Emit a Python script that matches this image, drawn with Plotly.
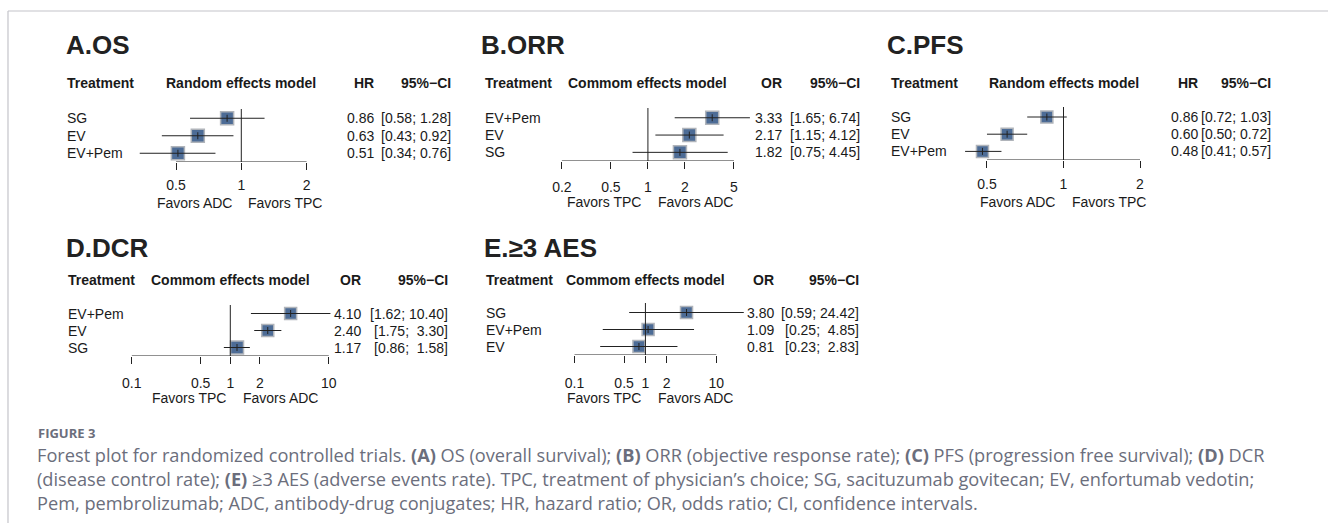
import math
import plotly.graph_objects as go

W, H = 1328, 523

# ---------------- data ----------------
A_title = "A.OS"
A_model = "Random effects model"
A_measure = "HR"
A_labels = ["SG", "EV", "EV+Pem"]
A_est = [0.86, 0.63, 0.51]
A_lo = [0.58, 0.43, 0.34]
A_hi = [1.28, 0.92, 0.76]
A_ticks = [0.5, 1, 2]
A_favors = ["Favors ADC", "Favors TPC"]

B_title = "B.ORR"
B_model = "Commom effects model"
B_measure = "OR"
B_labels = ["EV+Pem", "EV", "SG"]
B_est = [3.33, 2.17, 1.82]
B_lo = [1.65, 1.15, 0.75]
B_hi = [6.74, 4.12, 4.45]
B_ticks = [0.2, 0.5, 1, 2, 5]
B_favors = ["Favors TPC", "Favors ADC"]

C_title = "C.PFS"
C_model = "Random effects model"
C_measure = "HR"
C_labels = ["SG", "EV", "EV+Pem"]
C_est = [0.86, 0.60, 0.48]
C_lo = [0.72, 0.50, 0.41]
C_hi = [1.03, 0.72, 0.57]
C_ticks = [0.5, 1, 2]
C_favors = ["Favors ADC", "Favors TPC"]

D_title = "D.DCR"
D_model = "Commom effects model"
D_measure = "OR"
D_labels = ["EV+Pem", "EV", "SG"]
D_est = [4.10, 2.40, 1.17]
D_lo = [1.62, 1.75, 0.86]
D_hi = [10.40, 3.30, 1.58]
D_ticks = [0.1, 0.5, 1, 2, 10]
D_favors = ["Favors TPC", "Favors ADC"]

E_title = "E.≥3 AES"
E_model = "Commom effects model"
E_measure = "OR"
E_labels = ["SG", "EV+Pem", "EV"]
E_est = [3.80, 1.09, 0.81]
E_lo = [0.59, 0.25, 0.23]
E_hi = [24.42, 4.85, 2.83]
E_ticks = [0.1, 0.5, 1, 2, 10]
E_favors = ["Favors TPC", "Favors ADC"]

caption_head = "FIGURE 3"
caption_lines = [
    "Forest plot for randomized controlled trials. <b>(A)</b> OS (overall survival); <b>(B)</b> ORR (objective response rate); <b>(C)</b> PFS (progression free survival); <b>(D)</b> DCR",
    "(disease control rate); <b>(E)</b> ≥3 AES (adverse events rate). TPC, treatment of physician’s choice; SG, sacituzumab govitecan; EV, enfortumab vedotin;",
    "Pem, pembrolizumab; ADC, antibody-drug conjugates; HR, hazard ratio; OR, odds ratio; CI, confidence intervals.",
]

# ---------------- styling / layout geometry (pixels) ----------------
FONT = "Liberation Sans, Arial, Helvetica, sans-serif"
TXT = "#1a1a1a"
SQ_FILL = "#4d6c96"
SQ_EDGE = "#b0b4ba"

panels = [
    dict(title=A_title, model=A_model, measure=A_measure, labels=A_labels, est=A_est, lo=A_lo, hi=A_hi,
         ticks=A_ticks, favors=A_favors, sizes=[13, 13, 13],
         p0=171.7, p1=302.7, axis_y=162, top_y=109, row_h=17.5, title_x=59, title_y=45, head_y=83,
         treat_x=60, eff_r=372.5, ci_r=449.5, tick_standoff=3, fav_y=203, fav_off=(-7, 5), pad=False),
    dict(title=B_title, model=B_model, measure=B_measure, labels=B_labels, est=B_est, lo=B_lo, hi=B_hi,
         ticks=B_ticks, favors=B_favors, sizes=[13, 13, 13],
         p0=559, p1=731.7, axis_y=161, top_y=108, row_h=17.3, title_x=476, title_y=45, head_y=83,
         treat_x=479.5, eff_r=782, ci_r=860, tick_standoff=6, fav_y=202, fav_off=(-5, 8), pad=False),
    dict(title=C_title, model=C_model, measure=C_measure, labels=C_labels, est=C_est, lo=C_lo, hi=C_hi,
         ticks=C_ticks, favors=C_favors, sizes=[12, 12, 12],
         p0=985.7, p1=1139.3, axis_y=160, top_y=107, row_h=17.2, title_x=883, title_y=45, head_y=83,
         treat_x=887, eff_r=1199.5, ci_r=1272.5, tick_standoff=4, fav_y=202, fav_off=(-7, 6), pad=False),
    dict(title=D_title, model=D_model, measure=D_measure, labels=D_labels, est=D_est, lo=D_lo, hi=D_hi,
         ticks=D_ticks, favors=D_favors, sizes=[12, 12, 13],
         p0=127.3, p1=325, axis_y=356, top_y=305, row_h=17, title_x=59, title_y=248, head_y=280,
         treat_x=61, eff_r=359.5, ci_r=447, tick_standoff=7, fav_y=398, fav_off=(-2, 11), pad=True),
    dict(title=E_title, model=E_model, measure=E_measure, labels=E_labels, est=E_est, lo=E_lo, hi=E_hi,
         ticks=E_ticks, favors=E_favors, sizes=[12, 12, 12],
         p0=571.7, p1=714, axis_y=355, top_y=303, row_h=17, title_x=479, title_y=248, head_y=280,
         treat_x=481, eff_r=774, ci_r=859.5, tick_standoff=8, fav_y=398, fav_off=(-2, 11), pad=True),
]


def fx(p):
    return p / W


def fy(p):
    return 1 - p / H


def fmt_tick(v):
    return ("%g" % v)


NB = "\u00a0"

fig = go.Figure()
annotations = []
shapes = []
layout_axes = {}

for i, P in enumerate(panels):
    n = i + 1
    xname = "x" if n == 1 else "x%d" % n
    yname = "y" if n == 1 else "y%d" % n
    xkey = "xaxis" if n == 1 else "xaxis%d" % n
    ykey = "yaxis" if n == 1 else "yaxis%d" % n

    t0, t1 = P["ticks"][0], P["ticks"][-1]
    k = (P["p1"] - P["p0"]) / (math.log10(t1) - math.log10(t0))
    lo_v = min(min(P["lo"]), t0) * 0.85
    hi_v = max(max(P["hi"]), t1) * 1.15
    d0 = P["p0"] + (math.log10(lo_v) - math.log10(t0)) * k
    d1 = P["p0"] + (math.log10(hi_v) - math.log10(t0)) * k

    nrow = len(P["labels"])
    rows = list(range(nrow, 0, -1))  # top row -> nrow
    y_top_val = 0.5 + (P["axis_y"] - P["top_y"]) / P["row_h"]

    layout_axes[xkey] = dict(
        type="log", domain=[fx(d0), fx(d1)], range=[math.log10(lo_v), math.log10(hi_v)],
        anchor=yname, tickvals=P["ticks"], ticktext=[fmt_tick(t) for t in P["ticks"]],
        ticks="outside", ticklen=7, tickwidth=1, tickcolor="#222",
        showline=False, showgrid=False, zeroline=False,
        tickfont=dict(family=FONT, size=14, color=TXT), ticklabelstandoff=P["tick_standoff"],
        fixedrange=True,
    )
    layout_axes[ykey] = dict(
        domain=[fy(P["axis_y"]), fy(P["top_y"])], range=[0.5, y_top_val], anchor=xname,
        visible=False, fixedrange=True,
    )

    # axis line and line of no effect
    shapes.append(dict(type="line", xref=xname, yref=yname, x0=t0, x1=t1, y0=0.5, y1=0.5,
                       line=dict(color="#222", width=1)))
    shapes.append(dict(type="line", xref=xname, yref=yname, x0=1, x1=1, y0=0.5, y1=y_top_val,
                       line=dict(color="#222", width=1)))

    # squares
    fig.add_trace(go.Scatter(x=P["est"], y=rows, mode="markers",
                             marker=dict(symbol="square", size=P["sizes"], color=SQ_FILL, opacity=1,
                                         line=dict(color=SQ_EDGE, width=1.5)),
                             xaxis=xname, yaxis=yname, showlegend=False, cliponaxis=False))
    # CI lines (drawn over the squares)
    cx, cy = [], []
    for r, a, b in zip(rows, P["lo"], P["hi"]):
        cx += [a, b, None]
        cy += [r, r, None]
    fig.add_trace(go.Scatter(x=cx, y=cy, mode="lines", line=dict(color="#222", width=1),
                             xaxis=xname, yaxis=yname, hoverinfo="skip", showlegend=False))
    # centre tick
    fig.add_trace(go.Scatter(x=P["est"], y=rows, mode="markers",
                             marker=dict(symbol="line-ns", size=5, line=dict(color="#222", width=1)),
                             xaxis=xname, yaxis=yname, showlegend=False, cliponaxis=False, hoverinfo="skip"))

    annotations.append(dict(text="<b>%s</b>" % P["title"], x=fx(P["title_x"]), y=fy(P["title_y"]),
                            xref="paper", yref="paper", xanchor="left", yanchor="middle", showarrow=False,
                            font=dict(family=FONT, size=26, color="#222")))
    hf = dict(family=FONT, size=14, color=TXT)
    annotations.append(dict(text="<b>Treatment</b>", x=fx(P["treat_x"]), y=fy(P["head_y"]), xref="paper",
                            yref="paper", xanchor="left", yanchor="middle", showarrow=False, font=hf))
    annotations.append(dict(text="<b>%s</b>" % P["model"], x=0, y=fy(P["head_y"]), xref=xname,
                            yref="paper", xanchor="center", yanchor="middle", showarrow=False, font=hf))
    annotations.append(dict(text="<b>%s</b>" % P["measure"], x=fx(P["eff_r"]), y=fy(P["head_y"]), xref="paper",
                            yref="paper", xanchor="right", yanchor="middle", showarrow=False, font=hf))
    annotations.append(dict(text="<b>95%−CI</b>", x=fx(P["ci_r"]), y=fy(P["head_y"]), xref="paper",
                            yref="paper", xanchor="right", yanchor="middle", showarrow=False, font=hf))
    rf = dict(family=FONT, size=14, color=TXT)
    for r, lab, e, a, b in zip(rows, P["labels"], P["est"], P["lo"], P["hi"]):
        annotations.append(dict(text=lab, x=fx(P["treat_x"]), y=r, xref="paper", yref=yname,
                                xanchor="left", yanchor="middle", showarrow=False, font=rf))
        annotations.append(dict(text="%.2f" % e, x=fx(P["eff_r"]), y=r, xref="paper", yref=yname,
                                xanchor="right", yanchor="middle", showarrow=False, font=rf))
        if P["pad"]:
            ci = "[%.2f;%s%s]" % (a, NB, ("%5.2f" % b).replace(" ", NB))
        else:
            ci = "[%.2f; %.2f]" % (a, b)
        ci = ci.replace(" ", NB)
        annotations.append(dict(text=ci, x=fx(P["ci_r"]), y=r, xref="paper", yref=yname,
                                xanchor="right", yanchor="middle", showarrow=False, font=rf))
    annotations.append(dict(text=P["favors"][0], x=0, y=fy(P["fav_y"]), xref=xname, yref="paper",
                            xanchor="right", yanchor="middle", xshift=P["fav_off"][0], showarrow=False, font=rf))
    annotations.append(dict(text=P["favors"][1], x=0, y=fy(P["fav_y"]), xref=xname, yref="paper",
                            xanchor="left", yanchor="middle", xshift=P["fav_off"][1], showarrow=False, font=rf))

# frame lines
shapes.append(dict(type="line", xref="paper", yref="paper", x0=fx(3), x1=1, y0=fy(11), y1=fy(11),
                   line=dict(color="#c4c4ca", width=1.2)))
shapes.append(dict(type="line", xref="paper", yref="paper", x0=fx(3), x1=fx(3), y0=fy(11), y1=0,
                   line=dict(color="#c4c4ca", width=1.2)))

CAP = "Open Sans, Lato, sans-serif"
CAPC = "#6b6e7c"
annotations.append(dict(text="<b>%s</b>" % caption_head, x=fx(31), y=fy(433), xref="paper", yref="paper",
                        xanchor="left", yanchor="middle", showarrow=False,
                        font=dict(family=CAP, size=13, color=CAPC)))
for j, line in enumerate(caption_lines):
    annotations.append(dict(text=line, x=fx(30), y=fy(455 + 24 * j), xref="paper", yref="paper",
                            xanchor="left", yanchor="middle", showarrow=False,
                            font=dict(family=CAP, size=18.2, color=CAPC)))

fig.update_layout(
    width=W, height=H, autosize=False,
    margin=dict(l=0, r=0, t=0, b=0),
    paper_bgcolor="white", plot_bgcolor="rgba(0,0,0,0)",
    annotations=annotations, shapes=shapes, showlegend=False,
    **layout_axes,
)

fig.write_html("out.html", config={"displayModeBar": False},
               post_script="document.body.style.margin='0px';")
